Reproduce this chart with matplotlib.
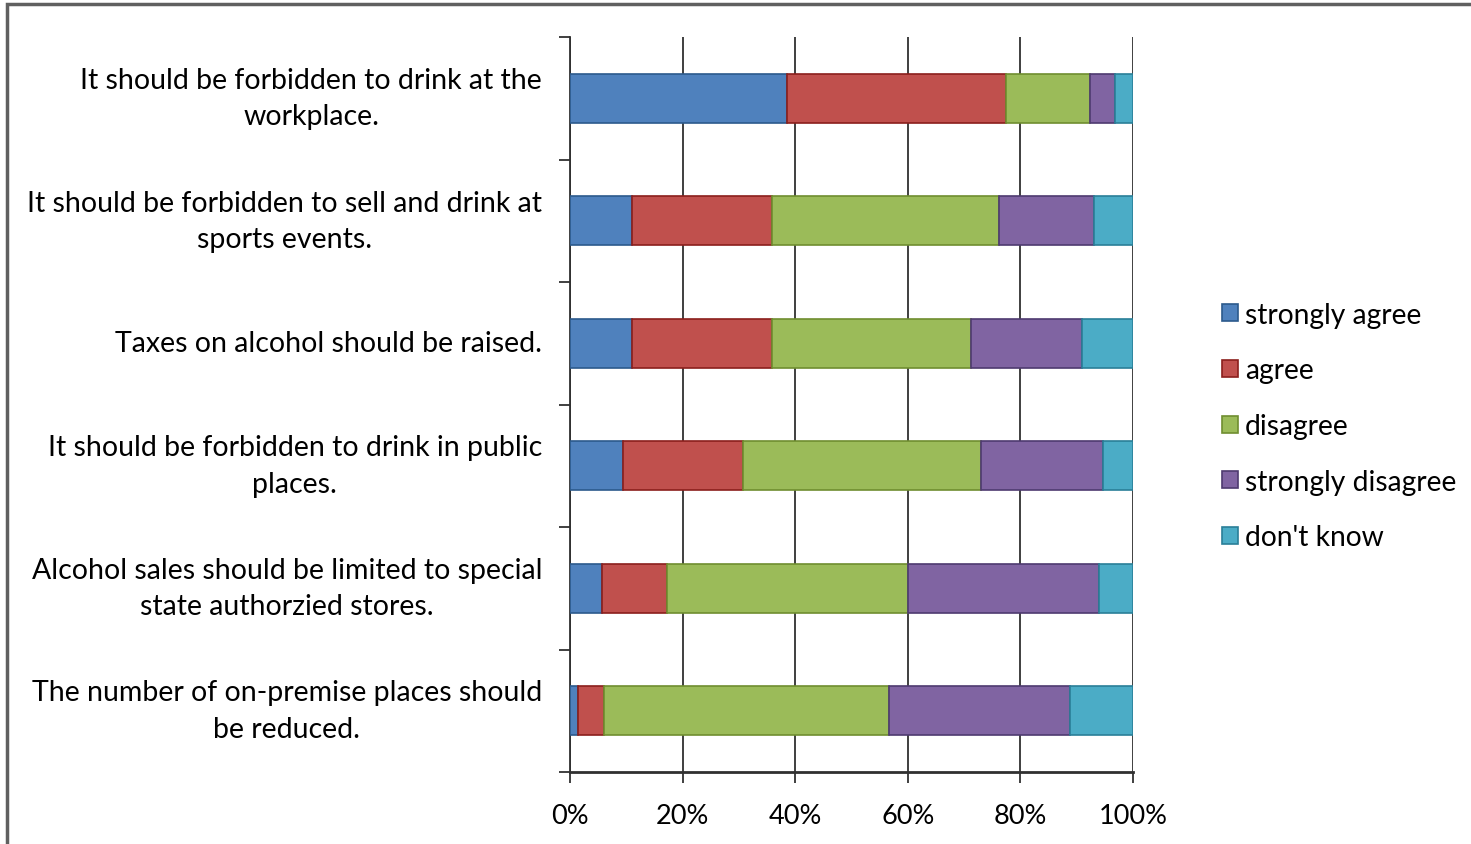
import matplotlib
matplotlib.use("Agg")
import matplotlib.pyplot as plt
from matplotlib.patches import Rectangle
import numpy as np

# survey statements (top to bottom)
statements = [
    "It should be forbidden to drink at the\nworkplace.",
    "It should be forbidden to sell and drink at\nsports events.",
    "Taxes on alcohol should be raised.",
    "It should be forbidden to drink in public\nplaces.",
    "Alcohol sales should be limited to special\nstate authorzied stores.",
    "The number of on-premise places should\nbe reduced.",
]
answers = ["strongly agree", "agree", "disagree", "strongly disagree", "don't know"]

# shares in %
strongly_agree = [38.6, 11.0, 11.0, 9.4, 5.6, 1.5]
agree = [38.9, 24.9, 24.9, 21.3, 11.7, 4.6]
disagree = [14.9, 40.3, 35.3, 42.3, 42.7, 50.5]
strongly_disagree = [4.4, 16.9, 19.8, 21.7, 33.9, 32.2]
dont_know = [3.2, 6.9, 9.0, 5.3, 6.1, 11.2]

colors = ["#4F81BD", "#C0504D", "#9BBB59", "#8064A2", "#4BACC6"]
edges = ["#2C5A8C", "#8B1F1C", "#6F8E30", "#4E3A70", "#2A7F98"]

plt.rcParams['font.family'] = ['Lato', 'DejaVu Sans']

fig = plt.figure(figsize=(14.71, 8.45), dpi=100)
W, H = 1471, 845
# outer chart frame (left and top visible)
fig.patches.append(Rectangle((7 / W, -0.1), 1.2, 1 - 5 / H + 0.1,
                             transform=fig.transFigure, fill=False,
                             edgecolor="#606060", linewidth=2.5))

ax = fig.add_axes([570 / W, 1 - 773 / H, (1133 - 570) / W, (773 - 38) / H])

series = [strongly_agree, agree, disagree, strongly_disagree, dont_know]
y = np.arange(len(statements))
left = np.zeros(len(statements))
for vals, lab, c, ec in zip(series, answers, colors, edges):
    vals = np.array(vals)
    ax.barh(y, vals, left=left, height=0.4, color=c, edgecolor=ec,
            linewidth=1.2, label=lab, zorder=3)
    left += vals

ax.set_xlim(0, 100)
ax.set_ylim(len(statements) - 0.5, -0.5)

# gridlines
ax.set_xticks(np.arange(0, 101, 20))
ax.set_xticklabels([f"{v}%" for v in range(0, 101, 20)], fontsize=19.5)
ax.xaxis.grid(True, color="#303030", linewidth=1.3, zorder=0)
ax.set_axisbelow(True)

# category boundary ticks on y
ax.set_yticks(np.arange(-0.5, len(statements), 1.0))
ax.set_yticklabels([])
ax.tick_params(axis="y", length=8, width=1.3, color="#303030")
ax.tick_params(axis="x", length=8, width=1.3, color="#303030", pad=14)

for s in ["top", "right"]:
    ax.spines[s].set_visible(False)
ax.spines["left"].set_color("#303030")
ax.spines["left"].set_linewidth(1.3)
ax.spines["bottom"].set_color("#303030")
ax.spines["bottom"].set_linewidth(2)

for i, txt in enumerate(statements):
    ax.text(-28 / (1133 - 570), i, txt, transform=ax.get_yaxis_transform(),
            ha="right", va="center", multialignment="center",
            fontsize=20.5, linespacing=1.5)

ax.legend(loc="center left", bbox_to_anchor=(1197 / W, 1 - 427 / H),
          bbox_transform=fig.transFigure, frameon=False, fontsize=20.3,
          handlelength=0.55, handleheight=0.55, handletextpad=0.25,
          labelspacing=1.05)

fig.savefig("out.png", dpi=100)
